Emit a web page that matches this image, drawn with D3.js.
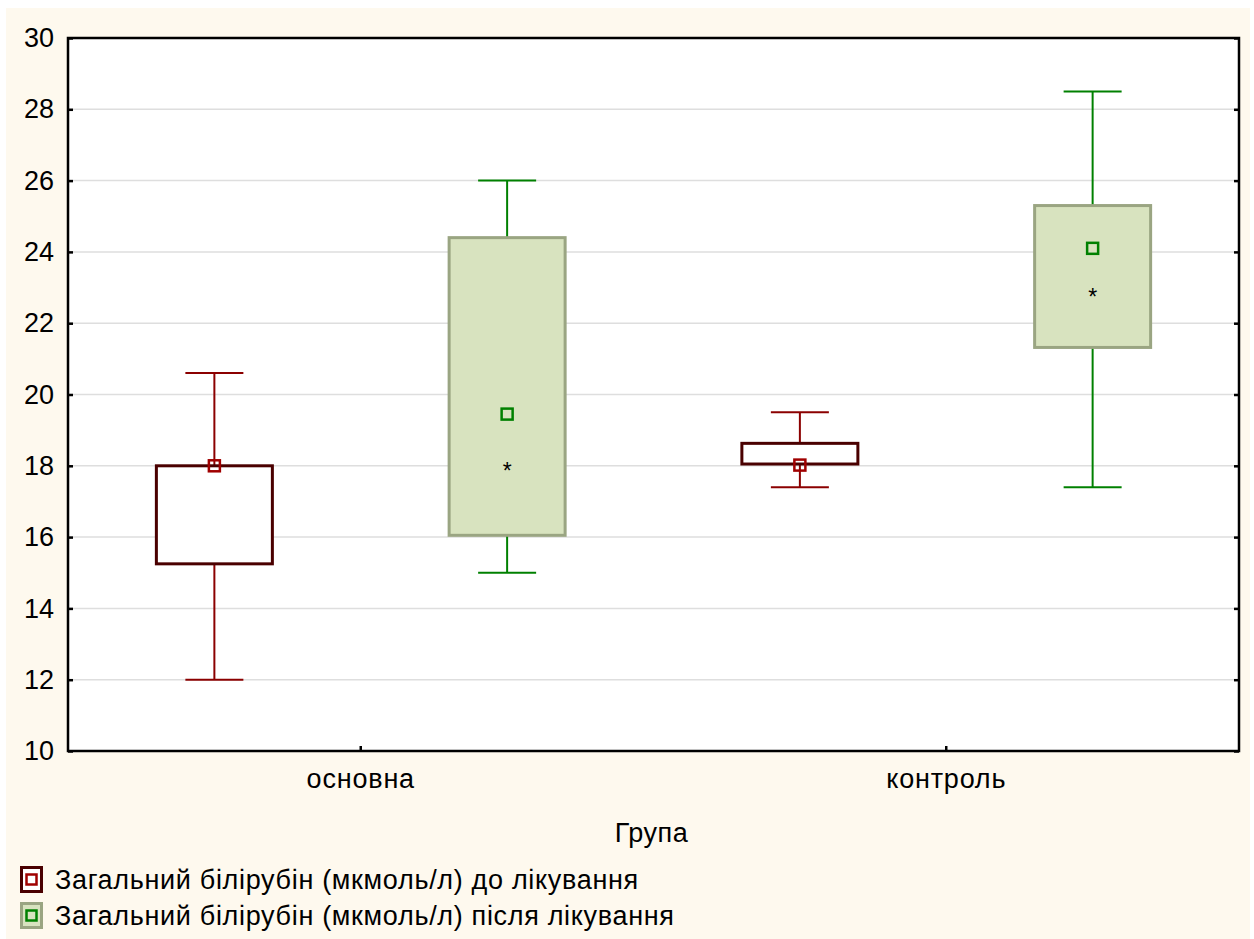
<!DOCTYPE html>
<html>
<head>
<meta charset="utf-8">
<script src="https://cdn.jsdelivr.net/npm/d3@7"></script>
<style>
  html, body { margin: 0; padding: 0; background: #ffffff; }
  svg { display: block; font-family: "Liberation Sans", Arial, sans-serif; }
</style>
</head>
<body>
<svg id="chart" width="1254" height="939"></svg>
<script>
// Groups on the x axis and the two measured series
const groups = ["основна", "контроль"];
const seriesKeys = ["before", "after"];
const seriesLabels = [
  "Загальний білірубін (мкмоль/л) до лікування",
  "Загальний білірубін (мкмоль/л) після лікування"
];
const yTicks = [10, 12, 14, 16, 18, 20, 22, 24, 26, 28, 30];
const xTitle = "Група";

// Before treatment (per group): whisker ends, box edges, median
const beforeMin    = [12.0, 17.4];
const beforeQ1     = [15.25, 18.05];
const beforeMedian = [18.0, 18.02];
const beforeQ3     = [18.0, 18.63];
const beforeMax    = [20.6, 19.5];

// After treatment (per group)
const afterMin    = [15.0, 17.4];
const afterQ1     = [16.05, 21.32];
const afterMedian = [19.45, 24.1];
const afterQ3     = [24.4, 25.3];
const afterMax    = [26.0, 28.5];
const afterStar   = [17.9, 22.8];

const styles = {
  before: { fill: "#ffffff", box: "#4a0000", whisker: "#8b0000", point: "#a00000" },
  after:  { fill: "#d8e3bf", box: "#9aa582", whisker: "#008000", point: "#008000" }
};

const rows = [];
groups.forEach((g, i) => {
  rows.push({ group: g, key: "before", min: beforeMin[i], q1: beforeQ1[i], median: beforeMedian[i], q3: beforeQ3[i], max: beforeMax[i], star: null });
  rows.push({ group: g, key: "after", min: afterMin[i], q1: afterQ1[i], median: afterMedian[i], q3: afterQ3[i], max: afterMax[i], star: afterStar[i] });
});

const svg = d3.select("#chart");
const W = 1254, H = 939;
const plot = { left: 68, right: 1239, top: 38, bottom: 751 };
const fontFamily = "Liberation Sans, Arial, sans-serif";

// cream page background
svg.append("rect").attr("x", 6).attr("y", 8).attr("width", W - 10).attr("height", H - 8).attr("fill", "#fef9ee");
// white plotting area
svg.append("rect").attr("x", plot.left).attr("y", plot.top)
  .attr("width", plot.right - plot.left).attr("height", plot.bottom - plot.top).attr("fill", "#ffffff");

const x = d3.scaleBand().domain(groups).range([plot.left, plot.right]);
const xs = d3.scaleBand().domain(seriesKeys).range([0, x.bandwidth()]);
const y = d3.scaleLinear().domain([10, 30]).range([plot.bottom, plot.top]);

// horizontal grid
svg.append("g").selectAll("line").data(yTicks.filter(t => t > 10 && t < 30)).join("line")
  .attr("x1", plot.left).attr("x2", plot.right)
  .attr("y1", d => y(d)).attr("y2", d => y(d))
  .attr("stroke", "#dedede").attr("stroke-width", 1.5);

const boxW = 116, capW = 58;
const cx = d => x(d.group) + xs(d.key) + xs.bandwidth() / 2;

const boxes = svg.append("g").selectAll("g").data(rows).join("g");

// whiskers
boxes.append("line")
  .attr("x1", cx).attr("x2", cx)
  .attr("y1", d => y(d.max)).attr("y2", d => y(d.q3))
  .attr("stroke", d => styles[d.key].whisker).attr("stroke-width", 2);
boxes.append("line")
  .attr("x1", cx).attr("x2", cx)
  .attr("y1", d => y(d.q1)).attr("y2", d => y(d.min))
  .attr("stroke", d => styles[d.key].whisker).attr("stroke-width", 2);
boxes.append("line")
  .attr("x1", d => cx(d) - capW / 2).attr("x2", d => cx(d) + capW / 2)
  .attr("y1", d => y(d.max)).attr("y2", d => y(d.max))
  .attr("stroke", d => styles[d.key].whisker).attr("stroke-width", 2);
boxes.append("line")
  .attr("x1", d => cx(d) - capW / 2).attr("x2", d => cx(d) + capW / 2)
  .attr("y1", d => y(d.min)).attr("y2", d => y(d.min))
  .attr("stroke", d => styles[d.key].whisker).attr("stroke-width", 2);

// interquartile box
boxes.append("rect")
  .attr("x", d => cx(d) - boxW / 2).attr("width", boxW)
  .attr("y", d => y(d.q3)).attr("height", d => y(d.q1) - y(d.q3))
  .attr("fill", d => styles[d.key].fill)
  .attr("stroke", d => styles[d.key].box).attr("stroke-width", 3);

// median marker
boxes.append("rect")
  .attr("x", d => cx(d) - 5.5).attr("y", d => y(d.median) - 5.5)
  .attr("width", 11).attr("height", 11)
  .attr("fill", "none").attr("stroke", d => styles[d.key].point).attr("stroke-width", 2.5);

// asterisk marker
boxes.filter(d => d.star != null).append("text")
  .attr("x", cx).attr("y", d => y(d.star) + 10)
  .attr("text-anchor", "middle")
  .attr("font-size", 23).attr("fill", "#000")
  .text("*");

// axes
const yAxisL = d3.axisLeft(y).tickValues(yTicks).tickSize(-5).tickPadding(14);
const gL = svg.append("g").attr("transform", `translate(${plot.left},0)`).call(yAxisL);
gL.selectAll("text").attr("font-size", 27).attr("fill", "#000").attr("font-family", fontFamily);

const yAxisR = d3.axisRight(y).tickValues(yTicks).tickSize(-5).tickFormat("");
svg.append("g").attr("transform", `translate(${plot.right},0)`).call(yAxisR);

const xAxis = d3.axisBottom(x).tickSize(-5).tickPadding(18);
const gB = svg.append("g").attr("transform", `translate(0,${plot.bottom})`).call(xAxis);
gB.selectAll("text").attr("font-size", 27).attr("fill", "#000").attr("font-family", fontFamily)
  .attr("letter-spacing", 0.8);

svg.selectAll(".domain").remove();
svg.selectAll(".tick line").attr("stroke", "#000").attr("stroke-width", 2.5);

// frame
svg.append("rect").attr("x", plot.left).attr("y", plot.top)
  .attr("width", plot.right - plot.left).attr("height", plot.bottom - plot.top)
  .attr("fill", "none").attr("stroke", "#000").attr("stroke-width", 2.5);

// x-axis title
svg.append("text").attr("x", (plot.left + plot.right) / 2 - 2).attr("y", 842)
  .attr("text-anchor", "middle").attr("font-size", 27).attr("fill", "#000")
  .attr("letter-spacing", 0.5)
  .text(xTitle);

// legend
const legend = svg.append("g").selectAll("g").data(seriesKeys).join("g")
  .attr("transform", (d, i) => `translate(20, ${866 + i * 36})`);
legend.append("rect").attr("x", 1.5).attr("y", 1.5).attr("width", 20).attr("height", 24)
  .attr("fill", d => d === "before" ? "#ffffff" : styles.after.fill)
  .attr("stroke", d => d === "before" ? "#4a0000" : styles.after.box).attr("stroke-width", 3);
legend.append("rect").attr("x", 6.5).attr("y", 8.5).attr("width", 10).attr("height", 10)
  .attr("fill", "none").attr("stroke", d => styles[d].point).attr("stroke-width", 2.5);
legend.append("text").attr("x", 35).attr("y", 23)
  .attr("font-size", 27).attr("fill", "#000")
  .attr("letter-spacing", 0.68)
  .text((d, i) => seriesLabels[i]);
</script>
</body>
</html>
